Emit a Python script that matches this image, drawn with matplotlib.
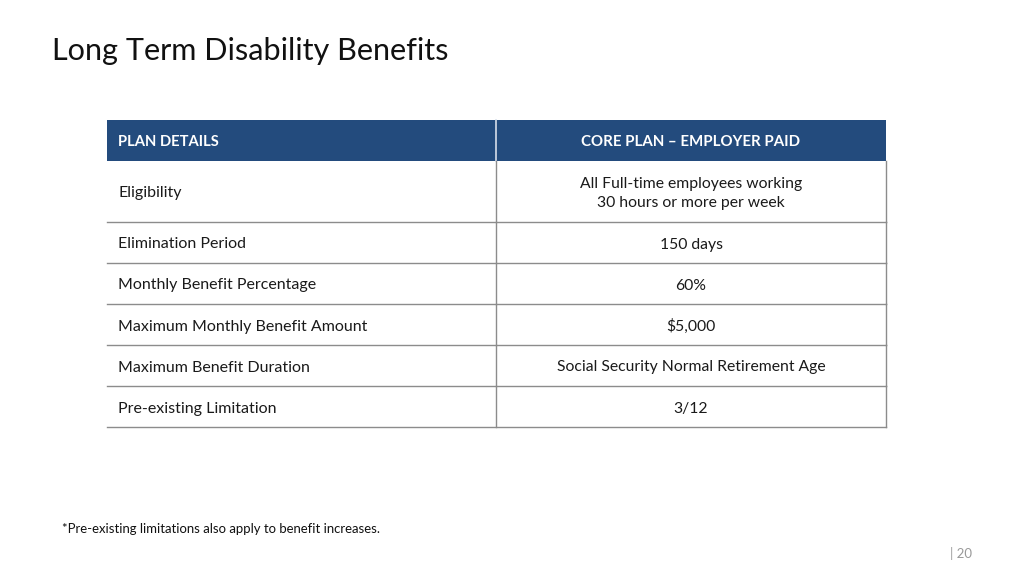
import matplotlib
matplotlib.use("Agg")
import matplotlib.pyplot as plt
from matplotlib.patches import Rectangle

plt.rcParams['font.family'] = ['Lato', 'DejaVu Sans']

title = "Long Term Disability Benefits"
header = ["PLAN DETAILS", "CORE PLAN \u2013 EMPLOYER PAID"]
plan_details = ["Eligibility", "Elimination Period", "Monthly Benefit Percentage",
                "Maximum Monthly Benefit Amount", "Maximum Benefit Duration",
                "Pre-existing Limitation"]
core_plan = ["All Full-time employees working\n30 hours or more per week", "150 days", "60%",
             "$5,000", "Social Security Normal Retirement Age", "3/12"]
row_heights = [61, 41, 41, 41, 41, 41]
footnote = "*Pre-existing limitations also apply to benefit increases."
page_label = "| 20"

W, H = 1024, 576
fig = plt.figure(figsize=(W / 100, H / 100), dpi=100)
ax = fig.add_axes([0, 0, 1, 1])
ax.set_xlim(0, W)
ax.set_ylim(H, 0)
ax.axis('off')

x0, xm, x1 = 107, 496, 886
y_top, head_h = 120, 41
navy = "#234B7D"
line_c = "#8C8C8C"

# header
ax.add_patch(Rectangle((x0, y_top), x1 - x0, head_h, facecolor=navy, edgecolor='none'))
ax.plot([xm, xm], [y_top, y_top + head_h], color="#D6DEEA", lw=1.2)
ax.text(118, y_top + head_h / 2 + 1.5, header[0], color='white', fontsize=10.6, fontweight='bold',
        ha='left', va='center')
ax.text((xm + x1) / 2, y_top + head_h / 2 + 1.5, header[1], color='white', fontsize=10.8,
        fontweight='bold', ha='center', va='center')

y = y_top + head_h
for lab, val, h in zip(plan_details, core_plan, row_heights):
    cy = y + h / 2 + 2
    ax.text(118, cy, lab, color='#1a1a1a', fontsize=11.5, ha='left', va='center')
    ax.text((xm + x1) / 2, cy, val, color='#1a1a1a', fontsize=11.3, ha='center', va='center',
            linespacing=1.5)
    ax.plot([x0, x1], [y + h, y + h], color=line_c, lw=1)
    ax.plot([xm, xm], [y, y + h], color=line_c, lw=1)
    ax.plot([x1, x1], [y, y + h], color=line_c, lw=1)
    y += h

ax.text(52, 51, title, fontsize=22.1, color='#111111', ha='left', va='center')
ax.text(62, 529, footnote, fontsize=9.45, color='#111111', ha='left', va='center')
ax.text(950, 554, page_label, fontsize=9.5, color='#999999', ha='left', va='center')

fig.savefig("out.png", dpi=100, facecolor='white')
